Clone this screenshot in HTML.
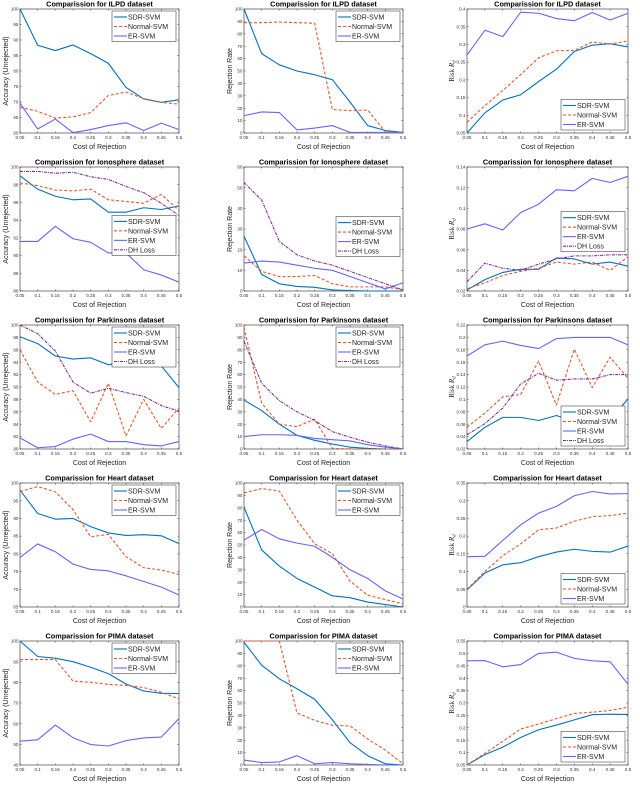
<!DOCTYPE html>
<html><head><meta charset="utf-8">
<style>
body{margin:0;background:#fff;}
svg{display:block;font-family:"Liberation Sans",sans-serif;}
</style></head>
<body>
<svg id="fig" width="640" height="790" viewBox="0 0 640 790"></svg>
<script>
const costs=[0.05,0.1,0.15,0.2,0.25,0.3,0.35,0.4,0.45,0.5];
const xTickLabels=["0.05","0.1","0.15","0.2","0.25","0.3","0.35","0.4","0.45","0.5"];
const seriesNames=["SDR-SVM","Normal-SVM","ER-SVM","DH Loss"];
const datasetNames=["ILPD","Ionosphere","Parkinsons","Heart","PIMA"];
// ILPD
const ilpdAccSDR=[100,88.3,86.6,88.4,85.6,82.5,74.7,71,69.9,70.7];
const ilpdAccNormal=[68.3,67,64.8,65.2,66.6,72.1,73.2,71.1,69.9,69.3];
const ilpdAccER=[69.6,61.3,64.5,60.1,61.1,62.4,63.3,60.8,63.2,61.1];
const ilpdRejSDR=[100,64,55,50,47,43,25,6,2,0.5];
const ilpdRejNormal=[89,89,89.5,89,88.5,19,18,18.5,1,0];
const ilpdRejER=[14,17,16.5,2.5,4,6,0.5,0.5,0.5,0.5];
const ilpdRiskSDR=[0.05,0.107,0.143,0.158,0.195,0.23,0.28,0.298,0.302,0.293];
const ilpdRiskNormal=[0.08,0.127,0.17,0.215,0.262,0.282,0.283,0.307,0.301,0.31];
const ilpdRiskER=[0.27,0.34,0.322,0.391,0.388,0.373,0.367,0.39,0.369,0.388];
// Ionosphere
const ionoAccSDR=[99,97.5,96.7,96.3,96.4,94.9,94.9,95.4,95.2,95.6];
const ionoAccNormal=[98.2,97.9,97.4,97.3,97.5,96.3,96.1,95.9,96.9,95.1];
const ionoAccER=[91.6,91.6,93.3,91.9,91.5,90.3,90.3,88.4,87.8,87.0];
const ionoAccDH=[99.5,99.5,99.3,99.4,98.9,98.6,97.8,97.1,95.9,94.5];
const ionoRejSDR=[26.5,8,3.5,2.2,1.8,0.5,0.2,0,0,0];
const ionoRejNormal=[17,9.5,7,7,7.5,3.5,2,2,2,0.5];
const ionoRejER=[13.5,14.5,14,12.5,11,10,7,4,1,4];
const ionoRejDH=[52.5,44,24,17.5,14.5,12.5,9.5,6.5,3.5,0.5];
const ionoRiskSDR=[0.021,0.031,0.038,0.041,0.041,0.052,0.051,0.046,0.048,0.044];
const ionoRiskNormal=[0.022,0.028,0.035,0.039,0.042,0.048,0.046,0.048,0.040,0.053];
const ionoRiskER=[0.080,0.085,0.079,0.096,0.104,0.118,0.117,0.129,0.125,0.131];
const ionoRiskDH=[0.029,0.047,0.042,0.040,0.046,0.051,0.054,0.054,0.055,0.055];
// Parkinsons
const parkAccSDR=[98.1,97.0,95.0,94.5,94.7,93.6,94.0,93.4,93.4,89.9];
const parkAccNormal=[96,90.8,88.8,89.4,84.4,90.6,82.1,88.0,83.3,86.6];
const parkAccER=[81.8,80.2,80.4,81.6,82.4,81.2,81.2,80.7,80.5,81.2];
const parkAccDH=[100,98.6,95.8,90.8,89.0,89.8,89.1,88.5,87.0,86.1];
const parkRejSDR=[39.5,31,20,11,7,4,1.5,0.5,0,0];
const parkRejNormal=[98,37,20,18,24,0.5,0,0,0,0];
const parkRejER=[10,11.5,11.5,11,8.5,7.5,6.5,3.5,1.5,0];
const parkRejDH=[87,53,39,30,23,14,9.5,5.5,2.5,0];
const parkRiskSDR=[0.032,0.055,0.071,0.071,0.066,0.074,0.064,0.069,0.066,0.101];
const parkRiskNormal=[0.055,0.078,0.104,0.108,0.162,0.091,0.181,0.119,0.168,0.134];
const parkRiskER=[0.170,0.188,0.194,0.187,0.182,0.198,0.200,0.200,0.200,0.188];
const parkRiskDH=[0.043,0.061,0.086,0.125,0.142,0.131,0.133,0.133,0.140,0.140];
// Heart
const heartAccSDR=[98,91.4,89.8,90,87.7,85.9,85.2,85.4,85.1,82.9];
const heartAccNormal=[97.6,99.0,97.5,92.5,84.8,85.5,79.2,76.1,75.4,74.2];
const heartAccER=[79,82.8,80.6,77.1,75.6,75.2,73.8,72.2,70.6,68.4];
const heartRejSDR=[80.5,46,33,23,16,9,7.5,4,2,0];
const heartRejNormal=[92,95.5,93.5,70,51,43,21,9.5,6,2.5];
const heartRejER=[54,62.5,55,51.5,49,40,30,23,13,6.5];
const heartRiskSDR=[0.048,0.096,0.119,0.125,0.142,0.155,0.163,0.157,0.155,0.172];
const heartRiskNormal=[0.05,0.10,0.145,0.178,0.218,0.223,0.242,0.255,0.258,0.265];
const heartRiskER=[0.142,0.143,0.188,0.232,0.265,0.284,0.314,0.326,0.319,0.320];
// PIMA
const pimaAccSDR=[100,92.5,91.7,90,87.3,84.2,79.2,75.8,74.7,74.6];
const pimaAccNormal=[91,91,91,80.6,80,79,78.5,77.5,75.2,72];
const pimaAccER=[51.5,52.2,59.3,53.2,49.9,49.2,51.8,53.1,53.5,62.5];
const pimaRejSDR=[99,80.5,69.5,61.5,53,36.5,18,7.5,1,0];
const pimaRejNormal=[100,100,100,42,36,32,31.5,21,12,1];
const pimaRejER=[4,2,2.5,7.5,1,2,1,0.5,0,0];
const pimaRiskSDR=[0.05,0.092,0.122,0.161,0.192,0.211,0.232,0.253,0.255,0.254];
const pimaRiskNormal=[0.05,0.097,0.145,0.195,0.215,0.237,0.258,0.263,0.270,0.283];
const pimaRiskER=[0.470,0.471,0.446,0.455,0.500,0.505,0.480,0.470,0.466,0.376];
// axis ranges [min,max,step]
const accRanges=[[60,100,5],[86,100,2],[80,100,2],[65,100,5],[40,100,10]];
const rejRanges=[[0,100,10],[0,60,10],[0,100,10],[0,100,10],[0,100,10]];
const riskRanges=[[0.05,0.4,0.05],[0.02,0.14,0.02],[0.02,0.22,0.02],[0,0.35,0.05],[0.05,0.55,0.05]];

const styles=[
 {c:"#0072BD",d:"",w:1.1},
 {c:"#E4572E",d:"3,2",w:1.1},
 {c:"#6464FF",d:"",w:1.1},
 {c:"#7E2F8E",d:"3,1,1,1",w:1.1}
];
const NS="http://www.w3.org/2000/svg";
const svg=document.getElementById("fig");
function mk(tag,attrs,parent){const e=document.createElementNS(NS,tag);for(const k in attrs)e.setAttribute(k,attrs[k]);(parent||svg).appendChild(e);return e;}

const rows=[
 {acc:[ilpdAccSDR,ilpdAccNormal,ilpdAccER],rej:[ilpdRejSDR,ilpdRejNormal,ilpdRejER],risk:[ilpdRiskSDR,ilpdRiskNormal,ilpdRiskER],leg:["tr","tr","br"]},
 {acc:[ionoAccSDR,ionoAccNormal,ionoAccER,ionoAccDH],rej:[ionoRejSDR,ionoRejNormal,ionoRejER,ionoRejDH],risk:[ionoRiskSDR,ionoRiskNormal,ionoRiskER,ionoRiskDH],leg:[0.39,0.4,0.36]},
 {acc:[parkAccSDR,parkAccNormal,parkAccER,parkAccDH],rej:[parkRejSDR,parkRejNormal,parkRejER,parkRejDH],risk:[parkRiskSDR,parkRiskNormal,parkRiskER,parkRiskDH],leg:["tr","tr","br"]},
 {acc:[heartAccSDR,heartAccNormal,heartAccER],rej:[heartRejSDR,heartRejNormal,heartRejER],risk:[heartRiskSDR,heartRiskNormal,heartRiskER],leg:["tr","tr","br"]},
 {acc:[pimaAccSDR,pimaAccNormal,pimaAccER],rej:[pimaRejSDR,pimaRejNormal,pimaRejER],risk:[pimaRiskSDR,pimaRiskNormal,pimaRiskER],leg:["tr","tr","br"]}
];
const colX=[[20,179],[244,403],[467,628]];
const metrics=["acc","rej","risk"];
const ranges=[accRanges,rejRanges,riskRanges];

rows.forEach((row,ri)=>{
  const top=9+ri*158, bot=133+ri*158;
  metrics.forEach((m,ci)=>{
    const [x0,x1]=colX[ci];
    const [ymin,ymax,ystep]=ranges[ci][ri];
    const sx=v=>x0+(v-0.05)/(0.45)*(x1-x0);
    const sy=v=>bot-(v-ymin)/(ymax-ymin)*(bot-top);
    const g=mk("g",{});
    
    
    mk("rect",{x:x0,y:top,width:x1-x0,height:bot-top,fill:"#fff",stroke:"#262626","stroke-width":0.6},g);
    const t=mk("text",{x:(x0+x1)/2,y:top-2.5,"text-anchor":"middle","font-size":7.3,"font-weight":"bold",fill:"#000"},g);
    t.textContent="Comparission for "+datasetNames[ri]+" dataset";
    
    
    // x ticks
    costs.forEach((c,i)=>{
      const x=sx(c);
      mk("line",{x1:x,x2:x,y1:bot,y2:bot-1.5,stroke:"#262626","stroke-width":0.5},g);
      mk("line",{x1:x,x2:x,y1:top,y2:top+1.5,stroke:"#262626","stroke-width":0.5},g);
      const tl=mk("text",{x:x,y:bot+6,"text-anchor":"middle","font-size":4.6,fill:"#333"},g);
      tl.textContent=xTickLabels[i];
      
      
    });
    const xl=mk("text",{x:(x0+x1)/2,y:bot+16,"text-anchor":"middle","font-size":7,fill:"#222"},g);
    xl.textContent="Cost of Rejection";
    
    
    // y ticks
    const n=Math.round((ymax-ymin)/ystep);
    for(let k=0;k<=n;k++){
      const v=ymin+k*ystep, y=sy(v);
      mk("line",{x1:x0,x2:x0+1.5,y1:y,y2:y,stroke:"#262626","stroke-width":0.5},g);
      mk("line",{x1:x1,x2:x1-1.5,y1:y,y2:y,stroke:"#262626","stroke-width":0.5},g);
      const yt=mk("text",{x:x0-1.5,y:y+1.6,"text-anchor":"end","font-size":4.6,fill:"#333"},g);
      yt.textContent=String(parseFloat(v.toFixed(3)));
      
      
    }
    const yx=x0-(ci==2?13:12), yc=(top+bot)/2;
    const yl=mk("text",{x:yx,y:yc,"text-anchor":"middle","font-size":7,fill:"#222",transform:`rotate(-90 ${yx} ${yc})`},g);
    if(ci==0) yl.textContent="Accuracy (Unrejected)";
    else if(ci==1) yl.textContent="Rejection Rate";
    else {yl.setAttribute("font-family","Liberation Serif,serif");yl.innerHTML='Risk <tspan font-style="italic">R</tspan><tspan font-style="italic" font-size="5" dy="1.5">d</tspan>';}
    
    
    // series
    const data=row[m];
    data.forEach((arr,si)=>{
      const pts=arr.map((v,i)=>sx(costs[i]).toFixed(2)+","+sy(v).toFixed(2)).join(" ");
      const p=mk("polyline",{points:pts,fill:"none",stroke:styles[si].c,"stroke-width":styles[si].w,"stroke-dasharray":styles[si].d,"stroke-linejoin":"round"},g);
      
      
    });
    // legend
    const ne=data.length, lw=64, lh=ne*9.5+2;
    const pos=row.leg[ci];
    const lx=x1-lw-3;
    let ly;
    if(pos==="tr") ly=top+2;
    else if(pos==="br") ly=bot-lh-3;
    else ly=top+pos*(bot-top);
    const lg=mk("g",{},g);
    
    
    mk("rect",{x:lx,y:ly,width:lw,height:lh,fill:"#fff",stroke:"#262626","stroke-width":0.5},lg);
    data.forEach((arr,si)=>{
      const yy=ly+6+si*9.5;
      mk("line",{x1:lx+2,x2:lx+15,y1:yy,y2:yy,stroke:styles[si].c,"stroke-width":1.1,"stroke-dasharray":styles[si].d},lg);
      const lt=mk("text",{x:lx+16,y:yy+2.5,"font-size":7,fill:"#222"},lg);
      lt.textContent=seriesNames[si];
      
      
    });
  });
});
</script>
</body></html>
